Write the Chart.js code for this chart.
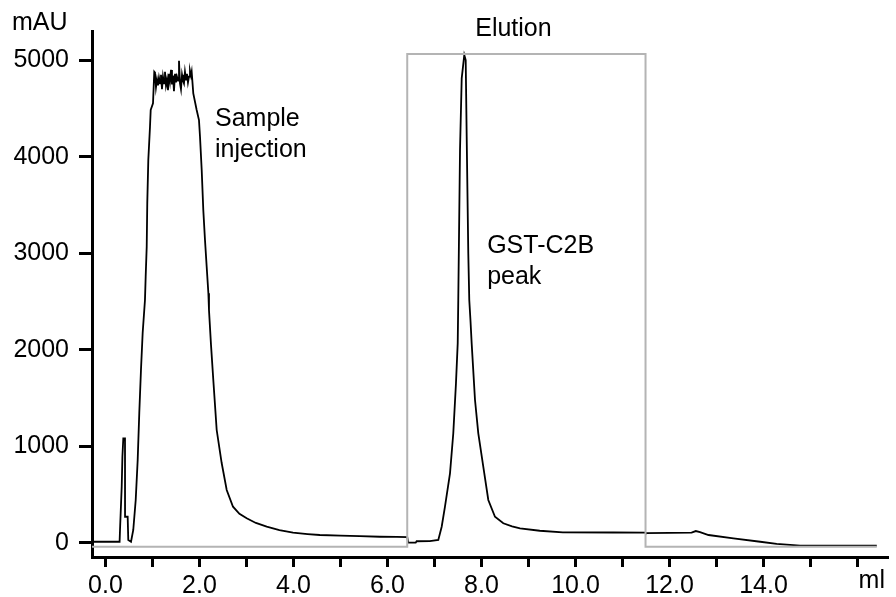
<!DOCTYPE html>
<html>
<head>
<meta charset="utf-8">
<script src="https://cdn.jsdelivr.net/npm/chart.js@4.4.1/dist/chart.umd.min.js"></script>
<style>
  html, body { margin: 0; padding: 0; background: #fff; }
  #wrap { width: 896px; height: 597px; }
</style>
</head>
<body>
<div id="wrap"><canvas id="chrom" width="896" height="597"></canvas></div>
<script>
// UV absorbance trace (mAU) against elution volume (ml)
const volumeMl = [
  -0.287, 0.30, 0.309, 0.345, 0.36, 0.379, 0.415, 0.416, 0.472, 0.485, 0.543,
  0.591, 0.643, 0.685, 0.719, 0.755, 0.791, 0.840, 0.855, 0.877, 0.889, 0.911, 0.947, 0.962, 1.011, 1.038,
  1.053, 1.074, 1.096, 1.117, 1.138, 1.160, 1.181, 1.202, 1.223, 1.245, 1.266, 1.287,
  1.309, 1.330, 1.351, 1.372, 1.394, 1.415, 1.436, 1.457, 1.479, 1.500, 1.521, 1.543,
  1.564, 1.585, 1.606, 1.628, 1.649, 1.670, 1.691, 1.713, 1.734, 1.755, 1.777, 1.798,
  1.819, 1.834,
  1.868, 1.940, 1.989, 2.011, 2.047, 2.081, 2.117, 2.153, 2.189, 2.202, 2.245, 2.294,
  2.366, 2.472, 2.579, 2.713, 2.85, 3.004, 3.2, 3.43, 3.7, 3.99, 4.3, 4.56, 5.0, 5.41,
  5.84, 6.2, 6.42,
  6.44, 6.60, 6.62, 6.9, 7.081, 7.153, 7.223, 7.330, 7.400, 7.457, 7.494, 7.506, 7.543,
  7.579, 7.634, 7.664, 7.685, 7.719, 7.740, 7.766, 7.791, 7.862, 7.932, 8.038, 8.145,
  8.287, 8.464, 8.65, 8.82, 9.24, 9.73, 10.8,
  11.48, 11.5, 12.0, 12.47, 12.56, 12.65, 12.83, 13.36, 13.93, 14.28, 14.78, 16.41
];
const absorbanceMau = [
  10, 10, 132, 580, 891, 1082, 1082, 269, 269, 28, 10,
  132, 443, 857, 1344, 1790, 2173, 2515, 2757, 3067, 3520, 3966, 4311, 4484, 4553, 4880,
  4870, 4720, 4800, 4740, 4820, 4760, 4850, 4700, 4830, 4760, 4880, 4740,
  4800, 4690, 4860, 4780, 4900, 4750, 4840, 4680, 4860, 4770, 4830, 4790,
  4995, 4760, 4700, 4850, 4790, 4760, 4880, 4800, 4860, 4770, 4830, 4890,
  4840, 4880,
  4657, 4484, 4380, 4207, 3862, 3448, 3137, 2860, 2585, 2411, 2050, 1686,
  1168, 826, 546, 373, 300, 253, 205, 166, 130, 104, 90, 80, 73, 69,
  62, 60, 58,
  0, 0, 15, 16, 28, 166, 373, 719, 1134, 1652, 2066, 2515, 4069,
  4812, 5054, 5002, 4207, 3000, 2515, 2300, 2066, 1479, 1134, 788, 443,
  269, 201, 170, 149, 124, 108, 106,
  104, 100, 102, 104, 121, 110, 80, 45, 10, -13, -31, -31
];

// Fraction marker: low level outside the elution window, high level inside it
const fractionVolume = [-0.287, 6.42, 6.42, 11.49, 11.49, 16.41];
const fractionLevel  = [-41, -41, 5064, 5064, -41, -41];

// Axis ticks
const xTickValues = [0, 1, 2, 3, 4, 5, 6, 7, 8, 9, 10, 11, 12, 13, 14, 15, 16];
const xLabelled   = [0, 2, 4, 6, 8, 10, 12, 14];
const yTickValues = [0, 1000, 2000, 3000, 4000, 5000];

// Text notes placed in data space
const notes = [
  { x: 2.33, y: 4390, lines: ['Sample', 'injection'] },
  { x: 8.12, y: 3070, lines: ['GST-C2B', 'peak'] },
  { x: 8.68, y: 5320, lines: ['Elution'] }
];

const FONT = '"Liberation Sans", Arial, sans-serif';

const toPoints = (xs, ys) => xs.map((v, i) => ({ x: v, y: ys[i] }));

const textPlugin = {
  id: 'chromText',
  afterDraw(chart) {
    const { ctx, scales: { x, y }, chartArea } = chart;
    ctx.save();
    ctx.fillStyle = '#000';
    ctx.font = '25px ' + FONT;
    ctx.textBaseline = 'middle';
    notes.forEach(n => {
      const px = x.getPixelForValue(n.x);
      const py = y.getPixelForValue(n.y);
      ctx.textAlign = n.lines.length === 1 ? 'center' : 'left';
      n.lines.forEach((t, i) => ctx.fillText(t, px, py + i * 31));
    });
    // axis units
    ctx.textAlign = 'left';
    ctx.fillText('mAU', 12, 23);
    ctx.textAlign = 'right';
    ctx.fillText('ml', chartArea.right - 3, 581);
    ctx.restore();
  }
};

new Chart(document.getElementById('chrom'), {
  type: 'scatter',
  data: {
    datasets: [
      {
        label: 'Fraction',
        data: toPoints(fractionVolume, fractionLevel),
        showLine: true,
        borderColor: '#b4b4b4',
        borderWidth: 2,
        pointRadius: 0,
        tension: 0
      },
      {
        label: 'UV',
        data: toPoints(volumeMl, absorbanceMau),
        showLine: true,
        borderColor: '#000',
        borderWidth: 1.8,
        pointRadius: 0,
        tension: 0
      }
    ]
  },
  options: {
    responsive: false,
    animation: false,
    events: [],
    layout: { padding: { top: 31, right: 8, left: 0, bottom: 0 } },
    plugins: { legend: { display: false }, tooltip: { enabled: false } },
    scales: {
      x: {
        type: 'linear',
        min: -0.287,
        max: 16.649,
        afterFit(s) { s.height = 40; s.paddingLeft = 0; s.paddingRight = 0; },
        afterBuildTicks(s) { s.ticks = xTickValues.map(v => ({ value: v })); },
        grid: {
          drawOnChartArea: false,
          drawTicks: true,
          tickLength: 10,
          tickWidth: 3,
          tickColor: '#000'
        },
        border: { display: true, color: '#000', width: 3 },
        ticks: {
          autoSkip: false,
          maxRotation: 0,
          padding: 4,
          color: '#000',
          font: { family: FONT, size: 25 },
          callback: v => xLabelled.includes(v) ? v.toFixed(1) : ''
        }
      },
      y: {
        type: 'linear',
        min: -148,
        max: 5303,
        afterFit(s) { s.width = 92; s.paddingTop = 0; s.paddingBottom = 0; },
        afterBuildTicks(s) { s.ticks = yTickValues.map(v => ({ value: v })); },
        grid: {
          drawOnChartArea: false,
          drawTicks: true,
          tickLength: 13,
          tickWidth: 3,
          tickColor: '#000'
        },
        border: { display: true, color: '#000', width: 3 },
        ticks: {
          padding: 10,
          color: '#000',
          font: { family: FONT, size: 25 },
          callback: v => String(v)
        }
      }
    }
  },
  plugins: [textPlugin]
});
</script>
</body>
</html>
